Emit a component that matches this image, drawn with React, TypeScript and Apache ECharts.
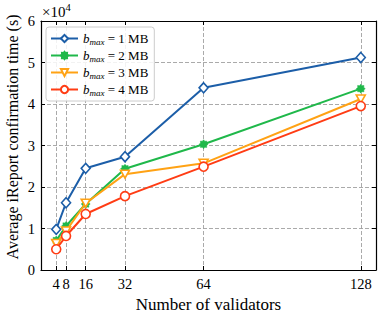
import React, { useEffect, useRef } from "react";
import * as echarts from "echarts";

const validators = [4, 8, 16, 32, 64, 128];
const xTicks = [4, 8, 16, 32, 64, 128];
const yTicks = [0, 1, 2, 3, 4, 5, 6];
const bmax1 = [0.98, 1.62, 2.45, 2.73, 4.39, 5.12];
const bmax2 = [0.71, 1.06, 1.59, 2.44, 3.03, 4.37];
const bmax3 = [0.64, 0.94, 1.61, 2.31, 2.57, 4.12];
const bmax4 = [0.5, 0.82, 1.35, 1.78, 2.49, 3.95];
const seriesNames = ["1", "2", "3", "4"];
const SCALE = 10000;

const FONT = "'Liberation Serif', 'DejaVu Serif', serif";
const colors = ["#1c5ea8", "#1fb84a", "#ffa214", "#ff3c14"];

function star(n: number, r1: number, r2: number) {
  const pts: string[] = [];
  for (let i = 0; i < n * 2; i++) {
    const r = i % 2 === 0 ? r1 : r2;
    const a = (Math.PI * i) / n - Math.PI / 2;
    pts.push(`${(50 + r * Math.cos(a)).toFixed(2)} ${(50 + r * Math.sin(a)).toFixed(2)}`);
  }
  return "path://M" + pts.join(" L") + " Z";
}

export default function App() {
  const ref = useRef<HTMLDivElement>(null);
  useEffect(() => {
    document.body.style.margin = "0";
    const chart = echarts.init(ref.current!, null, { renderer: "svg" });
    const datasets = [bmax1, bmax2, bmax3, bmax4];
    const symbols = ["diamond", star(8, 50, 36), "path://M0 0 L100 0 L50 90 Z", "circle"];
    const filled = [false, true, false, false];
    const sizes = [[9, 10], 9, [9, 8], 9];
    const series: any[] = datasets.map((d, i) => ({
      name: seriesNames[i],
      type: "line",
      data: validators.map((x, j) => [x, d[j] * SCALE]),
      symbol: symbols[i],
      symbolSize: sizes[i],
      showSymbol: true,
      lineStyle: { color: colors[i], width: 2 },
      itemStyle: {
        color: filled[i] ? colors[i] : "#ffffff",
        borderColor: colors[i],
        borderWidth: filled[i] ? 0.5 : 1.6,
      },
      z: 2 + i,
    }));
    chart.setOption({
      animation: false,
      grid: { left: 41, top: 21, right: 6, bottom: 47, containLabel: false, outerBoundsMode: "none" },
      xAxis: [
        {
          type: "value",
          min: -2.2,
          max: 134.2,
          axisLine: { onZero: false, lineStyle: { color: "#000", width: 1.2 } },
          axisTick: { show: true, inside: true, length: 4, customValues: xTicks, lineStyle: { color: "#000" } },
          axisLabel: {
            customValues: xTicks,
            color: "#000",
            fontFamily: FONT,
            fontSize: 14.5,
            margin: 6,
          },
          splitLine: { show: true, lineStyle: { color: "#a0a0a0", type: [4, 2], width: 0.9 } },
          name: "Number of validators",
          nameLocation: "middle",
          nameGap: 24,
          nameTextStyle: { color: "#000", fontFamily: FONT, fontSize: 17 },
        },
        {
          type: "value",
          position: "top",
          min: -2.2,
          max: 134.2,
          axisLine: { onZero: false, lineStyle: { color: "#000", width: 1.2 } },
          axisTick: { show: true, inside: true, length: 4, customValues: xTicks, lineStyle: { color: "#000" } },
          axisLabel: { show: false },
          splitLine: { show: false },
        },
      ],
      yAxis: [
        {
          type: "value",
          min: yTicks[0] * SCALE,
          max: yTicks[yTicks.length - 1] * SCALE,
          interval: SCALE,
          axisLine: { show: true, onZero: false, lineStyle: { color: "#000", width: 1.2 } },
          axisTick: { show: true, inside: true, length: 4, lineStyle: { color: "#000" } },
          axisLabel: {
            color: "#000",
            fontFamily: FONT,
            fontSize: 14.5,
            margin: 6,
            formatter: (v: number) => String(Math.round(v / SCALE)),
          },
          splitLine: { show: true, lineStyle: { color: "#a0a0a0", type: [4, 2], width: 0.9 } },
        },
        {
          type: "value",
          position: "right",
          min: yTicks[0] * SCALE,
          max: yTicks[yTicks.length - 1] * SCALE,
          interval: SCALE,
          axisLine: { show: true, onZero: false, lineStyle: { color: "#000", width: 1.2 } },
          axisTick: { show: true, inside: true, length: 4, lineStyle: { color: "#000" } },
          axisLabel: { show: false },
          splitLine: { show: false },
        },
      ],
      legend: {
        left: 46,
        top: 27,
        orient: "vertical",
        itemWidth: 27,
        itemHeight: 9,
        itemGap: 3,
        padding: [5, 6, 4, 4],
        backgroundColor: "rgba(255,255,255,0.85)",
        borderColor: "#cccccc",
        borderWidth: 1,
        borderRadius: 3,
        data: seriesNames,
        formatter: (name: string) => `{b|b}{s|max}{n| = ${name} MB}`,
        textStyle: {
          color: "#000",
          fontFamily: FONT,
          fontSize: 13,
          rich: {
            b: { fontFamily: FONT, fontSize: 13, fontStyle: "italic", color: "#000" },
            s: { fontFamily: FONT, fontSize: 9, fontStyle: "italic", color: "#000", padding: [6, 0, 0, 0] },
            n: { fontFamily: FONT, fontSize: 13, color: "#000" },
          },
        },
      },
      graphic: [
        {
          type: "text",
          left: 42,
          top: 2,
          style: {
            text: "{a|×10}{e|4}",
            rich: {
              a: { fontFamily: FONT, fontSize: 15, fill: "#000" },
              e: { fontFamily: FONT, fontSize: 10.5, fill: "#000", padding: [0, 0, 8, 0] },
            },
          },
        },
        {
          type: "text",
          x: 12,
          y: 137,
          rotation: Math.PI / 2,
          style: {
            text: "Average iReport confirmation time (s)",
            fontFamily: FONT,
            fontSize: 16,
            fill: "#000",
            align: "center",
            verticalAlign: "middle",
          },
        },
      ],
      series,
    });
    return () => chart.dispose();
  }, []);
  return <div ref={ref} style={{ position: "absolute", left: 0, top: 0, width: 382, height: 317 }} />;
}
